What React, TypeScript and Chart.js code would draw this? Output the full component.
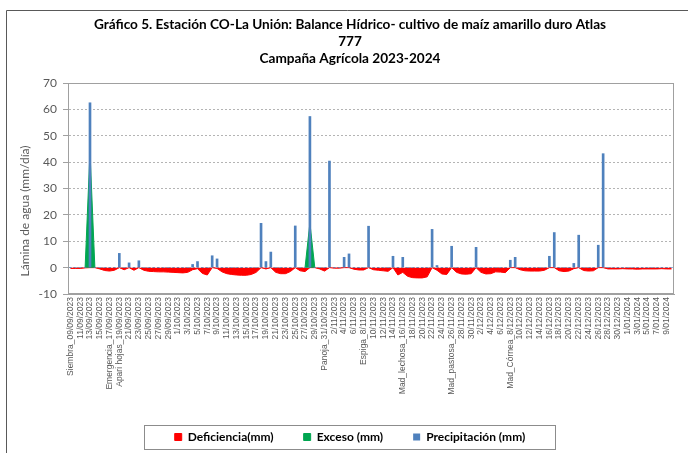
import React, { useEffect, useRef } from 'react';
import { Chart, registerables } from 'chart.js';

Chart.register(...registerables);

const W = 688;
const H = 453;

// Daily categories 09/09/2023 .. 10/01/2024
const dates = [
  '09/09/2023', '10/09/2023', '11/09/2023', '12/09/2023', '13/09/2023', '14/09/2023', '15/09/2023', '16/09/2023', '17/09/2023', '18/09/2023',
  '19/09/2023', '20/09/2023', '21/09/2023', '22/09/2023', '23/09/2023', '24/09/2023', '25/09/2023', '26/09/2023', '27/09/2023', '28/09/2023',
  '29/09/2023', '30/09/2023', '1/10/2023', '2/10/2023', '3/10/2023', '4/10/2023', '5/10/2023', '6/10/2023', '7/10/2023', '8/10/2023',
  '9/10/2023', '10/10/2023', '11/10/2023', '12/10/2023', '13/10/2023', '14/10/2023', '15/10/2023', '16/10/2023', '17/10/2023', '18/10/2023',
  '19/10/2023', '20/10/2023', '21/10/2023', '22/10/2023', '23/10/2023', '24/10/2023', '25/10/2023', '26/10/2023', '27/10/2023', '28/10/2023',
  '29/10/2023', '30/10/2023', '31/10/2023', '1/11/2023', '2/11/2023', '3/11/2023', '4/11/2023', '5/11/2023', '6/11/2023', '7/11/2023',
  '8/11/2023', '9/11/2023', '10/11/2023', '11/11/2023', '12/11/2023', '13/11/2023', '14/11/2023', '15/11/2023', '16/11/2023', '17/11/2023',
  '18/11/2023', '19/11/2023', '20/11/2023', '21/11/2023', '22/11/2023', '23/11/2023', '24/11/2023', '25/11/2023', '26/11/2023', '27/11/2023',
  '28/11/2023', '29/11/2023', '30/11/2023', '1/12/2023', '2/12/2023', '3/12/2023', '4/12/2023', '5/12/2023', '6/12/2023', '7/12/2023',
  '8/12/2023', '9/12/2023', '10/12/2023', '11/12/2023', '12/12/2023', '13/12/2023', '14/12/2023', '15/12/2023', '16/12/2023', '17/12/2023',
  '18/12/2023', '19/12/2023', '20/12/2023', '21/12/2023', '22/12/2023', '23/12/2023', '24/12/2023', '25/12/2023', '26/12/2023', '27/12/2023',
  '28/12/2023', '29/12/2023', '30/12/2023', '31/12/2023', '1/01/2024', '2/01/2024', '3/01/2024', '4/01/2024', '5/01/2024', '6/01/2024',
  '7/01/2024', '8/01/2024', '9/01/2024', '10/01/2024',
];

// Phenological stages (category index -> prefix)
const stageIndex = [0, 8, 10, 52, 60, 68, 78, 90];
const stageNames = ['Siembra', 'Emergencia', 'Apari hojas', 'Panoja', 'Espiga', 'Mad_lechosa', 'Mad_pastosa', 'Mad_Córnea'];

const deficiencia = [
  -0.3, -0.3, -0.3, -0.1, 0, 0, -0.5, -1.1, -1.3, -1.0,
  0, -0.8, 0, -1.0, 0, -1.0, -1.4, -1.5, -1.6, -1.6,
  -1.7, -1.8, -1.9, -2.0, -1.8, -0.8, -0.4, -2.2, -2.8, 0,
  -0.3, -1.6, -2.3, -2.6, -2.8, -2.9, -2.9, -2.6, -1.8, 0,
  -0.5, 0, -1.8, -2.3, -2.3, -1.5, 0, -1.2, -1.5, 0,
  0, -0.5, -1.3, 0, -0.2, -0.2, 0, 0, -0.6, -0.9,
  -0.9, 0, -0.8, -1.0, -1.2, -1.4, 0, -2.8, -1.8, -3.3,
  -3.8, -3.9, -3.9, -3.5, 0, -1.0, -2.4, -2.6, 0, -1.8,
  -2.4, -2.5, -2.3, 0, -1.8, -2.4, -2.3, -1.6, -1.7, -1.9,
  0, 0, -0.8, -1.2, -1.3, -1.3, -1.3, -1.0, 0, 0,
  -1.2, -1.5, -1.3, -0.4, 0, -1.1, -1.3, -1.2, 0, 0,
  -0.5, -0.5, -0.5, -0.4, -0.5, -0.5, -0.6, -0.5, -0.5, -0.5,
  -0.5, -0.4, -0.5, -0.5,
];

const exceso = [
  null, null, null, 0, 44, 0, null, null, null, null,
  null, null, null, null, null, null, null, null, null, null,
  null, null, null, null, null, null, null, null, null, null,
  null, null, null, null, null, null, null, null, null, null,
  null, null, null, null, null, null, null, null, 0, 17,
  0, null, null, null, null, null, null, null, null, null,
  null, null, null, null, null, null, null, null, null, null,
  null, null, null, null, null, null, null, null, null, null,
  null, null, null, null, null, null, null, null, null, null,
  null, null, null, null, null, null, null, null, null, null,
  null, null, null, null, null, null, null, null, null, null,
  null, null, null, null, null, null, null, null, null, null,
  null, null, null, null,
];

const precipitacion = [
  0, 0, 0, 0, 62.5, 0, 0, 0, 0, 0,
  5.4, 0, 1.8, 0, 2.6, 0, 0, 0, 0, 0,
  0, 0, 0, 0, 0, 1.2, 2.3, 0, 0, 4.5,
  3.3, 0, 0, 0, 0, 0, 0, 0, 0, 16.8,
  2.3, 5.9, 0, 0, 0, 0, 15.8, 0, 0, 57.3,
  0, 0, 0, 40.4, 0, 0, 3.9, 5.2, 0, 0,
  0, 15.7, 0, 0, 0, 0, 4.3, 0, 3.9, 0,
  0, 0, 0, 0, 14.5, 0.8, 0, 0, 8.1, 0,
  0, 0, 0, 7.7, 0, 0, 0, 0, 0, 0,
  2.8, 3.9, 0, 0, 0, 0, 0, 0, 4.3, 13.3,
  0, 0, 0, 1.6, 12.3, 0, 0, 0, 8.5, 43.2,
  0, 0, 0, 0, 0, 0, 0, 0, 0, 0,
  0, 0, 0, 0,
];

const titleLines = [
  'Gráfico 5. Estación CO-La Unión: Balance Hídrico- cultivo de maíz amarillo duro Atlas',
  '777',
  'Campaña Agrícola 2023-2024',
];
const yTitle = 'Lámina de agua (mm/día)';
const yMin = -10;
const yMax = 70;
const yStep = 10;

const tickLabel = (i: number): string => {
  if (i % 2 !== 0) return '';
  const s = stageIndex.indexOf(i);
  return s >= 0 ? stageNames[s] + '_' + dates[i] : dates[i];
};

const framePlugin = {
  id: 'frame',
  afterDraw(chart: any) {
    const ctx = chart.ctx;
    const a = chart.chartArea;
    ctx.save();
    ctx.setLineDash([]);
    ctx.lineWidth = 1;
    // outer chart frame (its top and left edges fall inside the picture)
    ctx.strokeStyle = '#595959';
    ctx.beginPath();
    ctx.moveTo(6.5, chart.height);
    ctx.lineTo(6.5, 10.5);
    ctx.lineTo(chart.width, 10.5);
    ctx.stroke();
    // plot-area border
    ctx.strokeStyle = '#a0a0a0';
    ctx.strokeRect(Math.round(a.left) + 0.5, Math.round(a.top) + 0.5, Math.round(a.right - a.left) - 1, Math.round(a.bottom - a.top) - 1);
    // y axis title
    ctx.translate(25, 211);
    ctx.rotate(-Math.PI / 2);
    ctx.fillStyle = '#595959';
    ctx.font = '12px Lato';
    ctx.textAlign = 'center';
    ctx.textBaseline = 'middle';
    ctx.fillText(yTitle, 0, 0);
    ctx.restore();
    // legend box
    const lg = chart.legend;
    if (lg && lg.legendHitBoxes && lg.legendHitBoxes.length) {
      const hb = lg.legendHitBoxes;
      const l = Math.min(...hb.map((h: any) => h.left));
      const r = Math.max(...hb.map((h: any) => h.left + h.width));
      const t = hb[0].top;
      ctx.save();
      ctx.strokeStyle = '#8c8c8c';
      ctx.lineWidth = 1;
      ctx.strokeRect(Math.round(l - 31) + 0.5, Math.round(t - 6) + 0.5, Math.round(r - l + 60), 24);
      ctx.restore();
    }
  },
};

export default function App() {
  const ref = useRef<HTMLCanvasElement>(null);

  useEffect(() => {
    if (!ref.current) return;
    const chart = new Chart(ref.current, {
      type: 'bar',
      data: {
        labels: dates,
        datasets: [
          {
            type: 'line',
            label: 'Deficiencia(mm)',
            data: deficiencia,
            backgroundColor: '#ff0000',
            borderColor: '#ff0000',
            borderWidth: 1,
            pointRadius: 0,
            fill: 'origin',
            tension: 0,
            order: 2,
          } as any,
          {
            type: 'line',
            label: 'Exceso (mm)',
            data: exceso,
            backgroundColor: '#00a651',
            borderColor: '#00a651',
            borderWidth: 1,
            pointRadius: 0,
            fill: 'origin',
            tension: 0,
            spanGaps: false,
            order: 1,
          } as any,
          {
            type: 'bar',
            label: 'Precipitación (mm)',
            data: precipitacion,
            backgroundColor: '#4f81bd',
            borderWidth: 0,
            barThickness: 2,
            order: 0,
          } as any,
        ],
      },
      options: {
        responsive: false,
        animation: false,
        layout: { padding: { left: 26, right: 14, top: 8, bottom: 0 } },
        plugins: {
          title: {
            display: true,
            text: titleLines,
            color: '#000000',
            font: { family: 'Lato', weight: 'bold', size: 13.6, lineHeight: '17px' },
            padding: { top: 8.5, bottom: 15.5 },
          },
          legend: {
            position: 'bottom',
            labels: {
              color: '#000000',
              font: { family: 'Lato', weight: 'bold', size: 12 },
              boxWidth: 7,
              boxHeight: 7,
              padding: 30,
              sort: (a: any, b: any) => a.datasetIndex - b.datasetIndex,
            },
          },
          tooltip: { enabled: false },
        },
        scales: {
          x: {
            offset: true,
            grid: { display: false, drawTicks: false },
            border: { display: true, color: '#a0a0a0' },
            ticks: {
              autoSkip: false,
              maxRotation: 90,
              minRotation: 90,
              padding: 3,
              color: '#595959',
              font: { family: 'Liberation Sans', size: 8.5 },
              callback: (_v: any, i: number) => tickLabel(i),
            },
            afterFit: (s: any) => { s.height = 107; },
          },
          y: {
            min: yMin,
            max: yMax,
            grid: {
              color: '#b4b4b4',
              drawTicks: true,
              tickLength: 5,
              tickColor: '#a0a0a0',
              tickBorderDash: [],
            },
            border: { display: true, color: '#a0a0a0', dash: [2, 2] },
            ticks: {
              stepSize: yStep,
              padding: 6,
              color: '#595959',
              font: { family: 'Lato', size: 12 },
            },
            afterFit: (s: any) => { s.width = 42; },
          },
        },
      },
      plugins: [framePlugin],
    });
    return () => chart.destroy();
  }, []);

  return (
    <div style={{ position: 'fixed', left: 0, top: 0, width: W, height: H, background: '#fff', overflow: 'hidden' }}>
      <canvas ref={ref} width={W} height={H} style={{ display: 'block', width: W, height: H }} />
    </div>
  );
}
